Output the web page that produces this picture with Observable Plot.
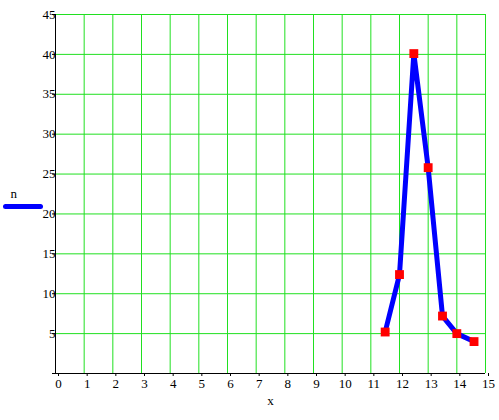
<!DOCTYPE html>
<html>
<head>
<meta charset="utf-8">
<script src="https://cdn.jsdelivr.net/npm/d3@7"></script>
<script src="https://cdn.jsdelivr.net/npm/@observablehq/plot@0.6"></script>
<style>
  body { margin: 0; background: #fff; }
  #wrap { position: relative; width: 499px; height: 420px; }
  #legline { position: absolute; left: 3px; top: 204px; width: 40px; height: 5px; border-radius: 2.5px; background: #0000ff; }
</style>
</head>
<body>
<div id="wrap"><div id="legline"></div></div>
<script>
const xValues = [11.5, 12, 12.5, 13, 13.5, 14, 14.6];
const nValues = [5.2, 12.4, 40.1, 25.8, 7.2, 5.0, 4.0];
const xTicks = [0, 1, 2, 3, 4, 5, 6, 7, 8, 9, 10, 11, 12, 13, 14, 15];
const yTicks = [0, 5, 10, 15, 20, 25, 30, 35, 40, 45];
const seriesLabel = "n";
const xLabel = "x";

const data = xValues.map((x, i) => ({x, n: nValues[i]}));
const green = "#20e020";
const font = "Liberation Serif, Times New Roman, serif";

const chart = Plot.plot({
  width: 499,
  height: 420,
  marginLeft: 55,
  marginRight: 14,
  marginTop: 14,
  marginBottom: 47,
  style: {fontFamily: font, fontSize: "13px", background: "white", color: "black"},
  x: {domain: [0, 15]},
  y: {domain: [0, 45]},
  marks: [
    Plot.gridX(xTicks.filter(d => d > 0), {stroke: green, strokeOpacity: 1}),
    Plot.gridY(yTicks.filter(d => d > 0), {stroke: green, strokeOpacity: 1}),
    Plot.axisX(xTicks, {tickSize: 3, tickPadding: 2, dx: 3, label: null, fontSize: 13}),
    Plot.axisY(yTicks, {tickSize: 3, tickPadding: -3, label: null, fontSize: 13, tickFormat: d => d === 0 ? "" : String(d)}),
    Plot.ruleX([0], {stroke: "black"}),
    Plot.ruleY([0], {stroke: "black"}),
    Plot.line(data, {x: "x", y: "n", stroke: "#0000ff", strokeWidth: 5}),
    Plot.dot(data, {x: "x", y: "n", symbol: "square", r: 5, fill: "#ff0000", stroke: "none"}),
    Plot.text([xLabel], {frameAnchor: "bottom", dy: 31, text: d => d, fontSize: 13}),
    Plot.text([seriesLabel], {frameAnchor: "left", dx: -45, dy: 0, text: d => d, fontSize: 13})
  ]
});
document.getElementById("wrap").prepend(chart);
</script>
</body>
</html>
